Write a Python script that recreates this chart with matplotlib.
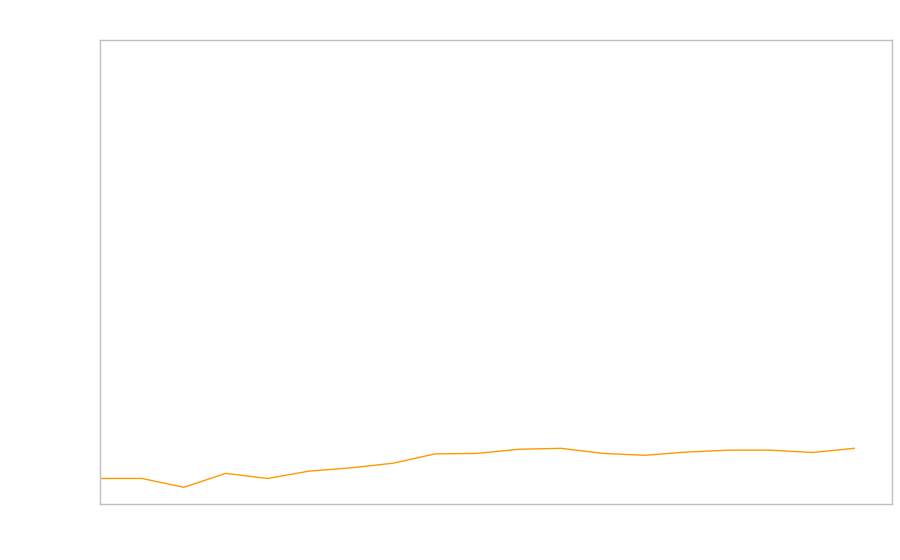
import matplotlib
matplotlib.use("Agg")
import matplotlib.pyplot as plt

x_index = list(range(19))
values = [5.5, 5.5, 3.6, 6.6, 5.5, 7.1, 7.8, 8.8, 10.8, 10.9, 11.8, 12.0,
          10.9, 10.5, 11.2, 11.6, 11.6, 11.1, 12.0]

fig = plt.figure(figsize=(9, 5.6), dpi=100)
ax = fig.add_axes([100/900, 56/560, 792/900, 464/560])
ax.plot(x_index, values, color="#ff9900", linewidth=1.0)
ax.set_xlim(0, 18.9)
ax.set_ylim(0, 100)
ax.set_xticks([])
ax.set_yticks([])
for s in ax.spines.values():
    s.set_color("#c0c0c0")
    s.set_linewidth(1.0)
fig.savefig("out.png", dpi=100)
